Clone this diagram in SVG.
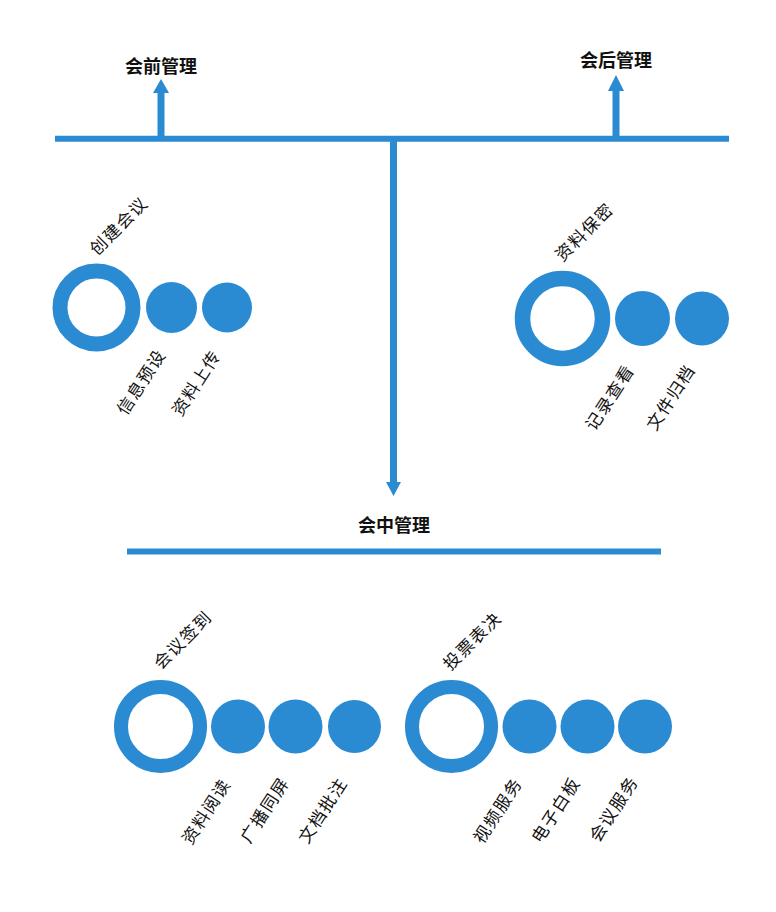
<svg xmlns="http://www.w3.org/2000/svg" width="776" height="912" viewBox="0 0 776 912">
<style>
.ln{stroke:#2a8bd3;stroke-width:6;fill:none}
.sh{stroke:#2a8bd3;stroke-width:7;fill:none}
.hd{fill:#2a8bd3}
.ring{fill:none;stroke:#2a8bd3}
.dot{fill:#2a8bd3}
.ttl{font-family:"Noto Sans CJK SC","Noto Sans",sans-serif;font-weight:bold;font-size:18px;fill:#111;text-anchor:middle}
.lbl{font-family:"Noto Sans CJK SC","Noto Sans",sans-serif;font-size:17px;fill:#111;text-anchor:middle;letter-spacing:1.5px}
</style>
<rect width="776" height="912" fill="#ffffff"/>
<g id="connectors">
<line class="ln" x1="55" y1="138.7" x2="729" y2="138.7"/>
<line class="sh" x1="161" y1="137" x2="161" y2="91"/>
<polygon class="hd" points="153,93 169,93 161,79"/>
<line class="sh" x1="616" y1="137" x2="616" y2="89"/>
<polygon class="hd" points="608,91 624,91 616,75"/>
<line class="sh" x1="393.5" y1="141" x2="393.5" y2="484"/>
<polygon class="hd" points="386,482 401,482 393.5,496"/>
<line class="ln" x1="127" y1="551.5" x2="661" y2="551.5"/>
</g>
<g id="pre">
<text class="ttl" x="161" y="72.5">会前管理</text>
</g>
<g id="post">
<text class="ttl" x="616" y="67">会后管理</text>
</g>
<g id="mid">
<text class="ttl" x="394" y="532">会中管理</text>
</g>
<g id="create">
<circle class="ring" cx="96.5" cy="307.5" r="36.5" stroke-width="15"/>
<circle class="dot" cx="171.5" cy="307.5" r="25.5"/>
<circle class="dot" cx="227" cy="307.5" r="25"/>
<text class="lbl" transform="translate(119,226) rotate(-45)" dy="0.35em">创建会议</text>
<text class="lbl" transform="translate(141.5,382) rotate(-57)" dy="0.35em">信息预设</text>
<text class="lbl" transform="translate(196.5,383) rotate(-57)" dy="0.35em">资料上传</text>
</g>
<g id="secret">
<circle class="ring" cx="562.5" cy="318.5" r="40" stroke-width="15.5"/>
<circle class="dot" cx="642.5" cy="318.5" r="27.5"/>
<circle class="dot" cx="702" cy="318.5" r="27"/>
<text class="lbl" transform="translate(584.5,232) rotate(-45)" dy="0.35em">资料保密</text>
<text class="lbl" transform="translate(610,397.5) rotate(-57)" dy="0.35em">记录查看</text>
<text class="lbl" transform="translate(671,397.5) rotate(-57)" dy="0.35em">文件归档</text>
</g>
<g id="signin">
<circle class="ring" cx="160.5" cy="726.5" r="39.5" stroke-width="14"/>
<circle class="dot" cx="238" cy="726.5" r="27"/>
<circle class="dot" cx="295.5" cy="726.5" r="27"/>
<circle class="dot" cx="354.5" cy="726.5" r="26.5"/>
<text class="lbl" transform="translate(183,640) rotate(-45)" dy="0.35em">会议签到</text>
<text class="lbl" transform="translate(206.5,811.5) rotate(-57)" dy="0.35em">资料阅读</text>
<text class="lbl" transform="translate(265,810) rotate(-57)" dy="0.35em">广播同屏</text>
<text class="lbl" transform="translate(323,810.5) rotate(-57)" dy="0.35em">文档批注</text>
</g>
<g id="vote">
<circle class="ring" cx="451.5" cy="726.5" r="39.5" stroke-width="14"/>
<circle class="dot" cx="529.5" cy="726.5" r="27"/>
<circle class="dot" cx="587.5" cy="726.5" r="27"/>
<circle class="dot" cx="645" cy="726.5" r="27"/>
<text class="lbl" transform="translate(472.5,641) rotate(-45)" dy="0.35em">投票表决</text>
<text class="lbl" transform="translate(498,810.5) rotate(-57)" dy="0.35em">视频服务</text>
<text class="lbl" transform="translate(556,810) rotate(-57)" dy="0.35em">电子白板</text>
<text class="lbl" transform="translate(614,809) rotate(-57)" dy="0.35em">会议服务</text>
</g>
</svg>
